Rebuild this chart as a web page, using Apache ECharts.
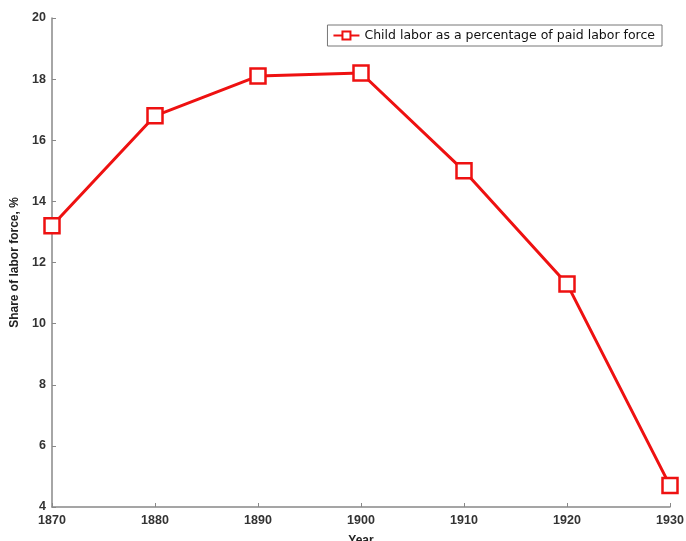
<!DOCTYPE html>
<html><head><meta charset="utf-8">
<script src="https://cdn.jsdelivr.net/npm/echarts@6/dist/echarts.min.js"></script>
<style>html,body{margin:0;padding:0;background:#fff}#c{width:686px;height:541px}</style>
</head><body><div id="c"></div>
<script>
const years = [1870, 1880, 1890, 1900, 1910, 1920, 1930];
const childLaborShare = [13.2, 16.8, 18.1, 18.2, 15.0, 11.3, 4.7];
const seriesName = 'Child labor as a percentage of paid labor force';
const chart = echarts.init(document.getElementById('c'));
chart.setOption({
  animation: false,
  backgroundColor: '#fff',
  grid: {left: 52, right: 16, top: 18, bottom: 34, outerBoundsMode: 'none', containLabel: false},
  legend: {
    data: [seriesName], right: 24, top: 25, orient: 'horizontal',
    borderColor: '#777', borderWidth: 1, padding: [3, 7, 3, 5],
    itemWidth: 26, itemHeight: 10, itemGap: 10,
    textStyle: {fontFamily: 'DejaVu Sans', fontSize: 12.5, color: '#111', lineHeight: 15}
  },
  xAxis: {
    type: 'value', min: 1870, max: 1930, interval: 10,
    name: 'Year', nameLocation: 'middle', nameGap: 28,
    nameTextStyle: {fontFamily: 'Liberation Sans, Arial', fontSize: 12, fontWeight: 'bold', color: '#222'},
    axisLine: {lineStyle: {color: '#888', width: 1.5}},
    axisTick: {inside: true, length: 4, lineStyle: {color: '#888'}},
    axisLabel: {fontFamily: 'Liberation Sans, Arial', fontSize: 12.5, fontWeight: 'bold', color: '#333', margin: 7, formatter: v => String(v)},
    splitLine: {show: false}
  },
  yAxis: {
    type: 'value', min: 4, max: 20, interval: 2,
    name: 'Share of labor force, %', nameLocation: 'middle', nameGap: 31,
    nameTextStyle: {fontFamily: 'Liberation Sans, Arial', fontSize: 12, fontWeight: 'bold', color: '#222'},
    axisLine: {show: true, lineStyle: {color: '#888', width: 1.5}},
    axisTick: {show: true, inside: true, length: 4, lineStyle: {color: '#888'}},
    axisLabel: {fontFamily: 'Liberation Sans, Arial', fontSize: 12.5, fontWeight: 'bold', color: '#333', margin: 6},
    splitLine: {show: false}
  },
  series: [{
    name: seriesName, type: 'line',
    data: years.map((y, i) => [y, childLaborShare[i]]),
    symbol: 'rect', symbolSize: 15,
    lineStyle: {color: '#ee1111', width: 3},
    itemStyle: {color: '#fff', borderColor: '#ee1111', borderWidth: 2.5}
  }]
});
</script></body></html>
